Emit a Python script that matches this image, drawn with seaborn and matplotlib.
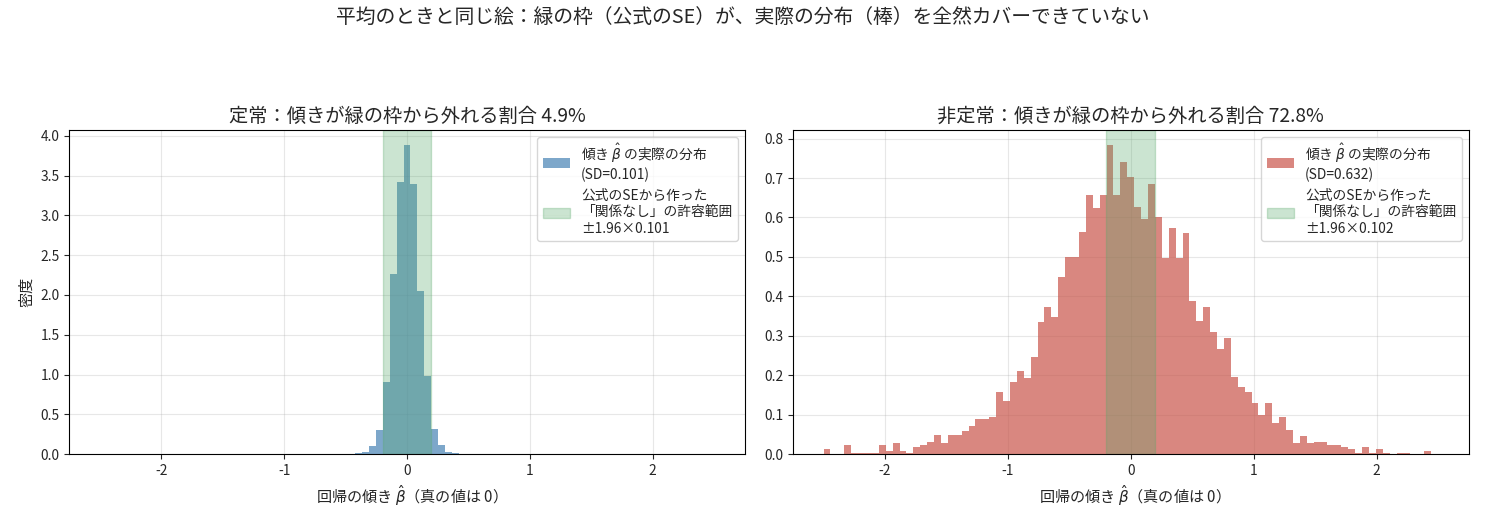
import numpy as np
import pandas as pd
import matplotlib
matplotlib.use("Agg")
import matplotlib.pyplot as plt
import seaborn as sns

# --- data (density per bin) ---
# common bins: 89 bins from -2.5 to 2.5
bin_edges = np.linspace(-2.5, 2.5, 90)

# stationary case: only bins 37..51 are non-empty
stat_first_bin = 37
stat_density = [0.010, 0.020, 0.097, 0.307, 0.912, 2.26, 3.42, 3.88,
                3.40, 2.05, 0.98, 0.32, 0.11, 0.020, 0.010]
stat_sd = 0.101
stat_se = 0.101
stat_out_pct = 4.9

# non-stationary case: all 89 bins
nonstat_density = [
    0.014, 0.0, 0.0, 0.022, 0.004, 0.004, 0.004, 0.004, 0.022, 0.009,
    0.027, 0.009, 0.004, 0.018, 0.022, 0.031, 0.049, 0.027, 0.049, 0.049,
    0.058, 0.071, 0.089, 0.089, 0.093, 0.157, 0.134, 0.183, 0.210, 0.192,
    0.246, 0.335, 0.374, 0.347, 0.450, 0.499, 0.499, 0.562, 0.658, 0.623,
    0.658, 0.783, 0.658, 0.740, 0.703, 0.627, 0.597, 0.686, 0.601, 0.497,
    0.574, 0.497, 0.561, 0.389, 0.338, 0.374, 0.309, 0.267, 0.294, 0.196,
    0.170, 0.157, 0.130, 0.099, 0.130, 0.080, 0.093, 0.062, 0.027, 0.045,
    0.027, 0.031, 0.031, 0.022, 0.022, 0.018, 0.013, 0.004, 0.018, 0.004,
    0.013, 0.004, 0.0, 0.004, 0.004, 0.0, 0.0, 0.009, 0.0,
]
nonstat_sd = 0.632
nonstat_se = 0.102
nonstat_out_pct = 72.8

# --- style ---
sns.set_style("ticks")
plt.rcParams['font.family'] = ['Noto Sans CJK JP', 'DejaVu Sans']
plt.rcParams['axes.unicode_minus'] = False

centers = (bin_edges[:-1] + bin_edges[1:]) / 2
stat_full = np.zeros(len(centers))
stat_full[stat_first_bin:stat_first_bin + len(stat_density)] = stat_density

fig, axes = plt.subplots(1, 2, figsize=(15, 528 / 99), dpi=99)
fig.subplots_adjust(left=0.0465, right=0.989, bottom=0.140, top=0.754, wspace=0.071)

panels = [
    (axes[0], stat_full, stat_sd, stat_se, stat_out_pct, "定常", "steelblue"),
    (axes[1], np.array(nonstat_density), nonstat_sd, nonstat_se, nonstat_out_pct, "非定常", "#C9554A"),
]

for ax, dens, sd, se, pct, name, col in panels:
    df = pd.DataFrame({"beta": centers, "dens": dens})
    sns.histplot(data=df, x="beta", weights="dens", bins=list(bin_edges), stat="count",
                 color=col, alpha=0.7, linewidth=0, ax=ax,
                 label=f"傾き $\\hat{{\\beta}}$ の実際の分布\n(SD={sd:.3f})")
    ax.axvspan(-1.96 * se, 1.96 * se, color="#55A868", alpha=0.3,
               label=f"公式のSEから作った\n「関係なし」の許容範囲\n±1.96×{se:.3f}")
    ax.set_xlim(-2.75, 2.75)
    ax.set_title(f"{name}：傾きが緑の枠から外れる割合 {pct:.1f}%", fontsize=14)
    ax.set_xlabel("回帰の傾き $\\hat{\\beta}$（真の値は 0）", fontsize=11)
    ax.set_ylabel("")
    ax.grid(True, color="#b0b0b0", alpha=0.3)
    ax.tick_params(labelsize=10)
    for s in ax.spines.values():
        s.set_visible(True)
        s.set_color("black")
    # histogram first, band second (as in the reference)
    h, l = ax.get_legend_handles_labels()
    ax.legend(h[::-1], l[::-1], loc="upper right", fontsize=10)

axes[0].set_ylabel("密度", fontsize=11)

fig.suptitle("平均のときと同じ絵：緑の枠（公式のSE）が、実際の分布（棒）を全然カバーできていない",
             fontsize=14.4, y=0.985)

fig.savefig("out.png", dpi=99)
